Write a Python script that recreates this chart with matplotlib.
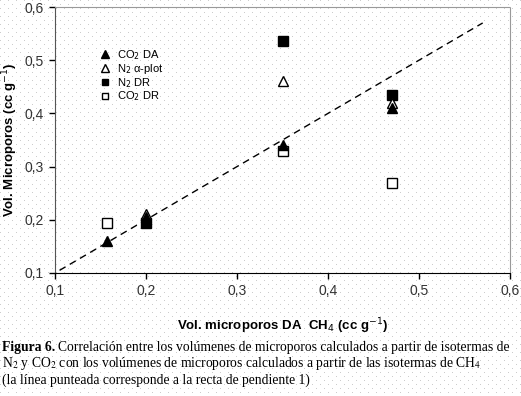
import numpy as np
import matplotlib
matplotlib.use("Agg")
import matplotlib.pyplot as plt

# data
x_co2_da = [0.157, 0.200, 0.350, 0.470]
y_co2_da = [0.160, 0.206, 0.340, 0.410]

x_n2_alpha = [0.200, 0.350, 0.470]
y_n2_alpha = [0.211, 0.461, 0.420]

x_n2_dr = [0.200, 0.350, 0.470]
y_n2_dr = [0.194, 0.537, 0.435]

x_co2_dr = [0.157, 0.350, 0.470]
y_co2_dr = [0.194, 0.330, 0.270]

line_range = [0.105, 0.570]  # slope 1 reference line

ticks = [0.1, 0.2, 0.3, 0.4, 0.5, 0.6]
tick_labels = ["0,1", "0,2", "0,3", "0,4", "0,5", "0,6"]

W, H = 521, 396
fig = plt.figure(figsize=(W / 100, H / 100), dpi=100)
fig.patch.set_facecolor("white")

# dotted paper texture behind everything
bg = np.ones((H, W, 3))
for r in range(0, H, 4):
    off = 0 if (r // 4) % 2 == 0 else 4
    bg[r, off::8] = 0.8
fig.figimage(bg, 0, 0, zorder=-10)

ax = fig.add_axes([55 / W, 1 - 273 / H, (510 - 55) / W, (273 - 7) / H])
ax.patch.set_alpha(0)

sans = "Liberation Sans"
serif = "Liberation Serif"

ax.plot(line_range, line_range, color="black", lw=1, linestyle=(0, (5, 3.5)), zorder=2)

ax.plot(x_co2_dr, y_co2_dr, "s", ms=6.5, mfc="white", mec="black", mew=1,
        label="CO$_2$ DR", zorder=3)
ax.plot(x_n2_dr, y_n2_dr, "s", ms=6.5, mfc="black", mec="black",
        label="N$_2$ DR", zorder=4)
ax.plot(x_n2_alpha, y_n2_alpha, "^", ms=7.5, mfc="white", mec="black", mew=1,
        label="N$_2$ α-plot", zorder=5)
ax.plot(x_co2_da, y_co2_da, "^", ms=7.5, mfc="black", mec="black",
        label="CO$_2$ DA", zorder=6)

ax.set_xlim(0.1, 0.6)
ax.set_ylim(0.1, 0.6)
ax.set_xticks(ticks)
ax.set_xticklabels(tick_labels)
ax.set_yticks(ticks)
ax.set_yticklabels(tick_labels)
ax.tick_params(direction="out", length=4, width=1, colors="black",
               labelsize=10, pad=4)
for lab in ax.get_xticklabels() + ax.get_yticklabels():
    lab.set_fontfamily(sans)
    lab.set_color("#333333")

ax.spines["left"].set_color("#555555")
ax.spines["bottom"].set_color("black")
for s in ["top", "right"]:
    ax.spines[s].set_color("#999999")
    ax.spines[s].set_linestyle((0, (1, 1)))

ax.set_ylabel("Vol. Microporos (cc g$^{-1}$)", fontfamily=sans, fontweight="bold",
              fontsize=9.5, math_fontfamily="dejavusans")
ax.yaxis.set_label_coords(-0.078, 0.5)
ax.set_xlabel("Vol. microporos DA  CH$_4$ (cc g$^{-1}$)", fontfamily=sans,
              fontweight="bold", fontsize=9.5, math_fontfamily="dejavusans", labelpad=13)

handles, labels = ax.get_legend_handles_labels()
order = [3, 2, 1, 0]
leg = ax.legend([handles[i] for i in order], [labels[i] for i in order],
                loc="upper left", bbox_to_anchor=(0.08, 0.875), frameon=False,
                handlelength=1.0, handleheight=0.5, handletextpad=0.6,
                labelspacing=0.0, borderpad=0.2,
                prop={"family": sans, "size": 8}, markerscale=0.7)

# caption
cap_size = 9.8
fig.canvas.draw()
r = fig.canvas.get_renderer()
t0 = fig.text(2 / W, 1 - 348 / H, "Figura 6.", fontfamily=serif, fontweight="bold",
              fontsize=cap_size, va="center")
bb = t0.get_window_extent(renderer=r)
fig.text((bb.x1 + 3) / W, 1 - 348 / H,
         "Correlación entre los volúmenes de microporos calculados a partir de isotermas de",
         fontfamily=serif, fontsize=cap_size, va="center")
fig.text(2 / W, 1 - 364 / H,
         "N$_2$ y CO$_2$ con los volúmenes de microporos calculados a partir de las isotermas de CH$_4$",
         fontfamily=serif, fontsize=cap_size, va="center", math_fontfamily="stix")
fig.text(2 / W, 1 - 380 / H,
         "(la línea punteada corresponde a la recta de pendiente 1)",
         fontfamily=serif, fontsize=cap_size, va="center")

fig.savefig("out.png", dpi=100)
